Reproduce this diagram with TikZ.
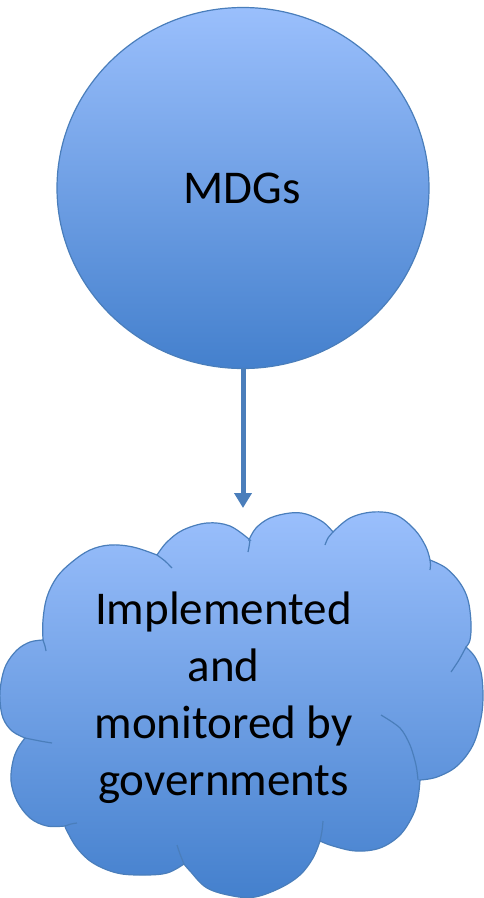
\documentclass[tikz,border=0pt]{standalone}
\usepackage{fontspec}
\setmainfont{Carlito}
\usetikzlibrary{arrows.meta,shapes.geometric}
\definecolor{topblue}{HTML}{9ABFFC}
\definecolor{botblue}{HTML}{4480CD}
\definecolor{edgeblue}{HTML}{4A7EBB}
\begin{document}
\begin{tikzpicture}[x=1pt,y=-1pt,
  shapefill/.style={top color=topblue, bottom color=botblue, draw=edgeblue, line width=1.2pt},
  innerline/.style={draw=edgeblue, line width=1.2pt},
  link/.style={draw=edgeblue, line width=5pt, -{Triangle[width=17pt,length=15pt]}},
  labeltext/.style={font=\fontsize{47}{57}\selectfont, align=center, text=black}]
\useasboundingbox (0,0) rectangle (483,898);
% circle
\node[ellipse, minimum width=372pt, minimum height=361pt, inner sep=0pt, shapefill] (mdg) at (243,188) {};
\node[labeltext, anchor=base] (mdgtext) at (242,203) {MDGs};
% cloud
\path[shapefill]
  plot[smooth, tension=0.6] coordinates {(43,640) (43,620) (47,597) (57,577) (72,562) (90,550) (110,545) (133,547) (157,555)}
  -- plot[smooth, tension=0.6] coordinates {(157,555) (167,542) (183,530) (207,523) (230,526) (250,540)}
  -- plot[smooth, tension=0.6] coordinates {(249,540) (256,528) (270,518) (290,513) (306,514) (323,522) (333,532)}
  -- plot[smooth, tension=0.6] coordinates {(333,532) (350,518) (373,512) (396,515) (415,530) (426,547) (430,560)}
  -- plot[smooth, tension=0.6] coordinates {(430,560) (446,568) (460,583) (468,600) (471,623) (470,640) (466,647)}
  -- plot[smooth, tension=0.6] coordinates {(466,647) (475,657) (481,672) (483,695) (481,718) (473,745) (457,766) (437,777) (420,780)}
  -- plot[smooth, tension=0.6] coordinates {(420,780) (418,798) (413,815) (400,835) (380,848) (356,851) (333,846) (320,841)}
  -- plot[smooth, tension=0.6] coordinates {(320,841) (313,858) (300,875) (280,888) (255,897) (233,896) (207,888) (190,871) (184,864)}
  -- plot[smooth, tension=0.6] coordinates {(184,864) (167,873) (143,875) (117,873) (93,863) (77,848) (67,831) (65,826)}
  -- plot[smooth, tension=0.6] coordinates {(65,826) (47,826) (30,818) (17,801) (11,781) (13,761) (18,748) (25,738)}
  -- plot[smooth, tension=0.6] coordinates {(25,738) (12,731) (3,718) (0,700) (1,683) (6,665) (17,650) (30,642) (43,640)}
  -- cycle;
% inner cloud lines
\draw[innerline] plot[smooth] coordinates {(43,640) (45,646) (46,651)};
\draw[innerline] plot[smooth] coordinates {(157,555) (165,561) (172,568)};
\draw[innerline] plot[smooth] coordinates {(250,540) (249,547) (248,552)};
\draw[innerline] plot[smooth] coordinates {(333,532) (328,538) (325,545)};
\draw[innerline] plot[smooth] coordinates {(430,560) (430.5,565) (430,570)};
\draw[innerline] plot[smooth] coordinates {(466,647) (459,660) (451,672)};
\draw[innerline] plot[smooth] coordinates {(381,715) (400,728) (410,745) (416,765) (418,780)};
\draw[innerline] plot[smooth] coordinates {(320,841) (322,831) (323,821)};
\draw[innerline] plot[smooth] coordinates {(184,864) (180,854) (177,845)};
\draw[innerline] plot[smooth] coordinates {(65,826) (71,824) (77,823)};
\draw[innerline] plot[smooth] coordinates {(25,738) (40,741) (52,743)};
\node[labeltext, anchor=base] (cloud) at (223.5,795) {Implemented\\and\\monitored by\\governments};
\coordinate (cloudtop) at (243,508);
\draw[link] (mdg.south) -- (cloudtop);
\end{tikzpicture}
\end{document}
